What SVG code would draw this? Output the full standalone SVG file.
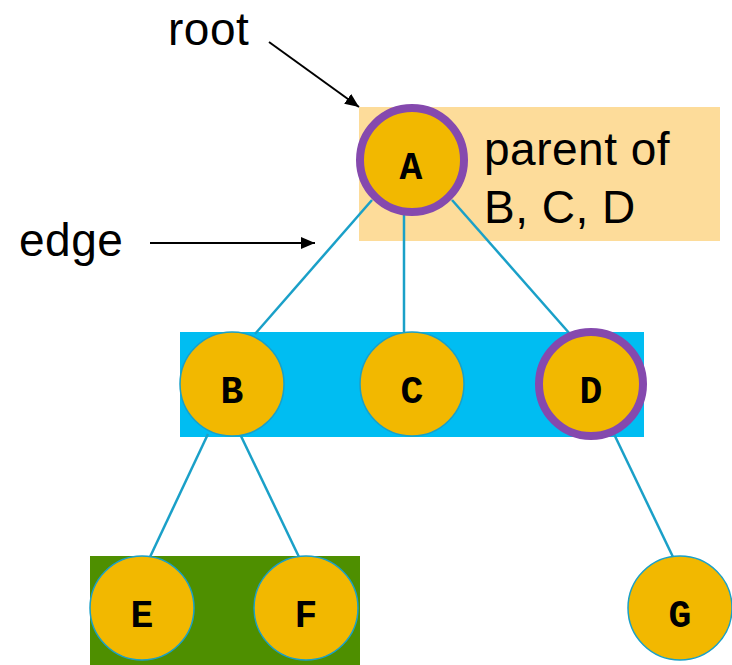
<svg xmlns="http://www.w3.org/2000/svg" width="732" height="665" viewBox="0 0 732 665">
  <defs>
    <marker id="arrowhead" viewBox="0 0 14 12" refX="14" refY="6" markerWidth="14" markerHeight="12" markerUnits="userSpaceOnUse" orient="auto">
      <path d="M0,0 L14,6 L0,12 Z" fill="#000"/>
    </marker>
    <style>
      .label { font-family: "Liberation Sans", Arial, sans-serif; font-size: 46px; letter-spacing: 0.5px; fill: #000; }
      .key { font-family: "Liberation Mono", "Courier New", monospace; font-weight: bold; font-size: 38px; fill: #000; text-anchor: middle; }
      .node { fill: #F2B800; stroke: #1AA0C8; stroke-width: 1.5; }
      .marked { fill: #F2B800; stroke: #8549AE; stroke-width: 8; }
      .edge { stroke: #1AA0C8; stroke-width: 2.5; fill: none; }
      .pointer { stroke: #000; stroke-width: 2; fill: none; marker-end: url(#arrowhead); }
    </style>
  </defs>
  <rect width="732" height="665" fill="#fff"/>

  <!-- level highlights -->
  <rect id="parent-band" x="359" y="107" width="361" height="134" fill="#FDDC9A"/>
  <rect id="children-band" x="180" y="332" width="464" height="105" fill="#00BDF2"/>
  <rect id="grandchildren-band" x="90" y="556" width="270" height="109" fill="#4E8F00"/>

  <!-- tree edges and pointer arrows -->
  <g id="connectors">
    <line class="edge" x1="372" y1="200" x2="255" y2="334"/>
    <line class="edge" x1="404" y1="212" x2="404" y2="332"/>
    <line class="edge" x1="452" y1="200" x2="570" y2="334"/>
    <line class="edge" x1="208" y1="434" x2="150" y2="557"/>
    <line class="edge" x1="240" y1="434" x2="299" y2="557"/>
    <line class="edge" x1="614" y1="434" x2="673" y2="557"/>
    <line class="pointer" x1="269" y1="42" x2="359" y2="107"/>
    <line class="pointer" x1="150" y1="243" x2="315" y2="243"/>
  </g>

  <g id="node-A">
    <circle class="marked" cx="412" cy="160" r="52"/>
    <text class="key" x="411" y="179">A</text>
  </g>
  <g id="node-B">
    <circle class="node" cx="232" cy="384" r="52"/>
    <text class="key" x="232" y="403">B</text>
  </g>
  <g id="node-C">
    <circle class="node" cx="412" cy="384" r="52"/>
    <text class="key" x="412" y="403">C</text>
  </g>
  <g id="node-D">
    <circle class="marked" cx="591" cy="384" r="52"/>
    <text class="key" x="591" y="403">D</text>
  </g>
  <g id="node-E">
    <circle class="node" cx="142" cy="608" r="52"/>
    <text class="key" x="142" y="627">E</text>
  </g>
  <g id="node-F">
    <circle class="node" cx="306" cy="608" r="52"/>
    <text class="key" x="306" y="627">F</text>
  </g>
  <g id="node-G">
    <circle class="node" cx="680" cy="608" r="52"/>
    <text class="key" x="680" y="627">G</text>
  </g>

  <g id="annotations">
    <text class="label" x="168" y="45">root</text>
    <text class="label" x="19" y="256">edge</text>
    <text class="label" x="484" y="165">parent of</text>
    <text class="label" x="484" y="223">B, C, D</text>
  </g>
</svg>
